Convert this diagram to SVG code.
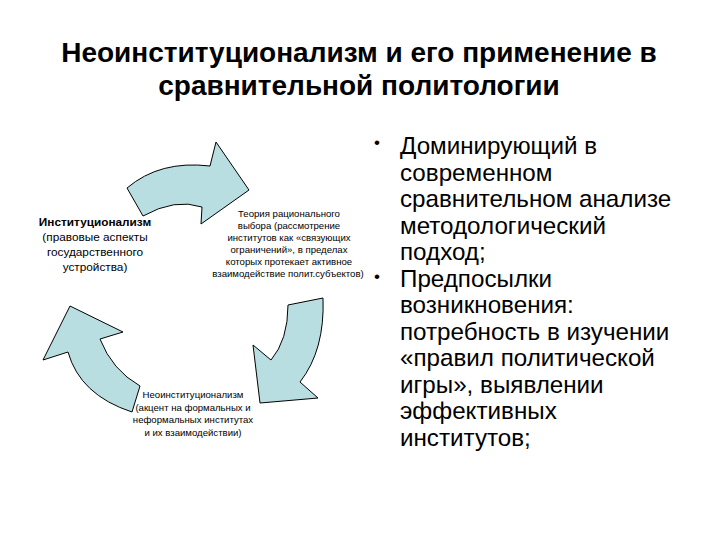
<svg xmlns="http://www.w3.org/2000/svg" width="720" height="540" viewBox="0 0 720 540">
<style>
.arrow{fill:#b9dee1;stroke:#000;stroke-width:1;stroke-linejoin:miter}
.t{font-family:"Liberation Sans",Arial,sans-serif;fill:#000}
.title{font-size:28px;font-weight:bold;text-anchor:middle}
.node{font-size:11.8px;text-anchor:middle}
.small{font-size:9.6px;text-anchor:middle}
.body{font-size:24.2px}
.bul{font-size:17px}
</style>
<rect width="720" height="540" fill="#fff"/>
<g id="title" class="t title">
<text x="359" y="62">Неоинституционализм и его применение в</text>
<text x="359" y="95">сравнительной политологии</text>
</g>
<g id="connectors">
<path class="arrow" d="M127,188 Q160,160 210,166 L216,142 L249,190 L201,224 L202,207 Q175,198 143,216 Z"/>
<path class="arrow" d="M323,298 L288,305 Q288,340 271,360 L253,345 L260,403 L318,398 L300,382 Q325,350 323,298 Z"/>
<path class="arrow" d="M70,306 L123,332 L100,339 Q112,370 140,386 L132,412 Q80,395 68,352 L43,360 Z"/>
</g>
<g id="node-institutionalism" class="t node">
<text x="95" y="226" font-weight="bold">Институционализм</text>
<text x="95" y="241">(правовые аспекты</text>
<text x="95" y="256">государственного</text>
<text x="95" y="271">устройства)</text>
</g>
<g id="node-rational-choice" class="t small">
<text x="289" y="217">Теория рационального</text>
<text x="289" y="229">выбора (рассмотрение</text>
<text x="289" y="241">институтов как «связующих</text>
<text x="289" y="253">ограничений», в пределах</text>
<text x="289" y="265">которых протекает активное</text>
<text x="288" y="277">взаимодействие полит.субъектов)</text>
</g>
<g id="node-neoinstitutionalism" class="t small">
<text x="193" y="398">Неоинституционализм</text>
<text x="193" y="410.5">(акцент на формальных и</text>
<text x="193" y="423">неформальных институтах</text>
<text x="193" y="435.5">и их взаимодействии)</text>
</g>
<g id="bullets" class="t body">
<text class="bul" x="374" y="148">•</text>
<text class="bul" x="374" y="282">•</text>
<text x="400" y="154">Доминирующий в</text>
<text x="400" y="180.5">современном</text>
<text x="400" y="207">сравнительном анализе</text>
<text x="400" y="233.5">методологический</text>
<text x="400" y="260">подход;</text>
<text x="400" y="286.5">Предпосылки</text>
<text x="400" y="313">возникновения:</text>
<text x="400" y="339.5">потребность в изучении</text>
<text x="400" y="366">«правил политической</text>
<text x="400" y="392.5">игры», выявлении</text>
<text x="400" y="419">эффективных</text>
<text x="400" y="445.5">институтов;</text>
</g>
</svg>
